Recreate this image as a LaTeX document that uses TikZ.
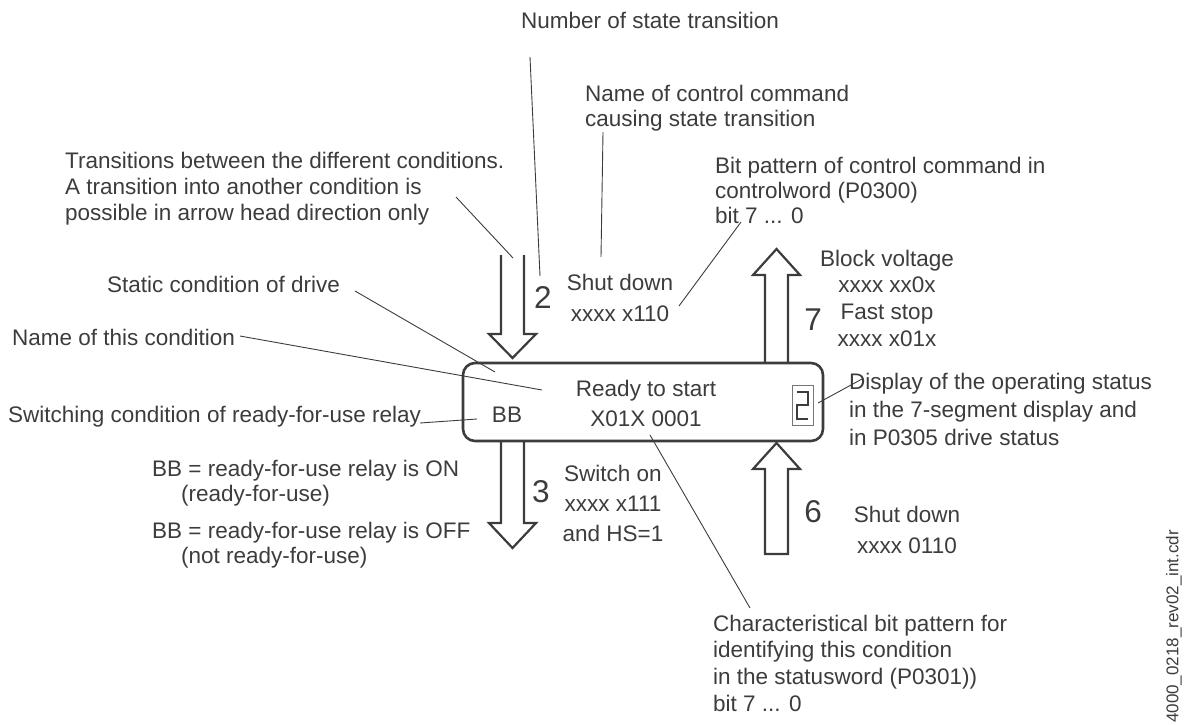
\documentclass[tikz,border=0pt]{standalone}
\usepackage{fontspec}
\setmainfont{Liberation Sans}
\definecolor{ink}{RGB}{60,60,60}
\begin{document}
\begin{tikzpicture}[x=1pt,y=-1pt,
 txt/.style={text=ink, inner sep=0pt, font=\fontsize{22.5}{26}\selectfont},
 lab/.style={txt, anchor=north west, align=left},
 clab/.style={txt, anchor=north, align=center},
 num/.style={text=ink, inner sep=0pt, font=\fontsize{31.5}{31.5}\selectfont},
 leader/.style={draw=ink, line width=0.9pt},
 fat/.style={draw=ink, line width=2.2pt, line join=miter},
 statebox/.style={draw=ink, line width=2.6pt, rounded corners=12pt},
 segbox/.style={draw=ink!70, line width=0.8pt},
 seg/.style={draw=ink, line width=2.8pt}
]
\useasboundingbox (0,0) rectangle (1196,724);

% state box
\node[statebox, minimum width=360pt, minimum height=78pt, inner sep=0pt] (state) at (643,402) {};
\node[clab, font=\fontsize{22.5}{29.5}\selectfont] (title) at (646,380) {Ready to start\\X01X 0001};
\node[txt] (bb) at (507,415) {BB};

% 7-segment display
\node[segbox, minimum width=21pt, minimum height=40pt, inner sep=0pt] (disp) at (802.5,405) {};
\draw[seg] (797,392) -- (808,392) -- (808,405) -- (797,405) -- (797,419) -- (808,419);

% fat arrows
\draw[fat] (501,255) -- (501,334) -- (489,334) -- (512.5,358) -- (536,334) -- (524,334) -- (524,255);
\draw[fat] (501,442) -- (501,523) -- (489,523) -- (512.5,548) -- (536,523) -- (524,523) -- (524,442);
\draw[fat] (765,362) -- (765,275) -- (753,275) -- (776.5,249) -- (800,275) -- (788,275) -- (788,362);
\draw[fat] (776.5,443) -- (800,469) -- (788,469) -- (788,554) -- (765,554) -- (765,469) -- (753,469) -- cycle;

% arrow numbers
\node[num] (n2) at (543,297) {2};
\node[num] (n3) at (541,492) {3};
\node[num] (n7) at (813,320) {7};
\node[num] (n6) at (813,512) {6};

% transition labels
\node[clab, font=\fontsize{22.5}{31}\selectfont] (t2) at (620,273.5) {Shut down\\xxxx x110};
\node[clab, font=\fontsize{22.5}{30.3}\selectfont] (t3) at (613,464.5) {Switch on\\xxxx x111\\and HS=1};
\node[clab, font=\fontsize{22.5}{26.7}\selectfont] (t7) at (887,249.5) {Block voltage\\xxxx xx0x\\Fast stop\\xxxx x01x};
\node[clab, font=\fontsize{22.5}{31}\selectfont] (t6) at (907,505.5) {Shut down\\xxxx 0110};

% annotations
\node[lab] (a1) at (521,11.5) {Number of state transition};
\node[lab, font=\fontsize{22.5}{25}\selectfont] (a2) at (585,84.5) {Name of control command\\causing state transition};
\node[lab, font=\fontsize{22.5}{25}\selectfont] (a3) at (715,156.5) {Bit pattern of control command in\\controlword (P0300)\\bit 7 ... 0};
\node[lab] (a4) at (65,151.5) {Transitions between the different conditions.\\A transition into another condition is\\possible in arrow head direction only};
\node[lab] (a5) at (107,275.5) {Static condition of drive};
\node[lab] (a6) at (12,328.5) {Name of this condition};
\node[lab] (a7) at (8,405.5) {Switching condition of ready-for-use relay};
\node[lab] (b1) at (152,459.5) {BB = ready-for-use relay is ON};
\node[lab] (b2) at (181,484.5) {(ready-for-use)};
\node[lab] (b3) at (152,521.5) {BB = ready-for-use relay is OFF};
\node[lab] (b4) at (181,546.5) {(not ready-for-use)};
\node[lab, font=\fontsize{22.5}{28}\selectfont] (a8) at (849,372.5) {Display of the operating status\\in the 7-segment display and\\in P0305 drive status};
\node[lab, font=\fontsize{22.5}{26.7}\selectfont] (a9) at (713,614.5) {Characteristical bit pattern for\\identifying this condition\\in the statusword (P0301))\\bit 7 ... 0};
\node[txt, rotate=90, anchor=west, font=\fontsize{17}{17}\selectfont] (file) at (1174,723) {4000\_0218\_rev02\_int.cdr};

% leader lines
\coordinate (l1a) at (530,57);  \coordinate (l1b) at (540,276);
\coordinate (l2a) at (603,132); \coordinate (l2b) at (601,257);
\coordinate (l3a) at (741,222); \coordinate (l3b) at (679,306);
\coordinate (l4a) at (456,197); \coordinate (l4b) at (513,258);
\coordinate (l5a) at (355,291); \coordinate (l5b) at (495,372);
\coordinate (l6a) at (240,336); \coordinate (l6b) at (542,390);
\coordinate (l7a) at (420,423); \coordinate (l7b) at (477,419);
\coordinate (l8a) at (862,379); \coordinate (l8b) at (818,403);
\coordinate (l9a) at (650,435); \coordinate (l9b) at (750,608);
\draw[leader] (l1a) -- (l1b);
\draw[leader] (l2a) -- (l2b);
\draw[leader] (l3a) -- (l3b);
\draw[leader] (l4a) -- (l4b);
\draw[leader] (l5a) -- (l5b);
\draw[leader] (l6a) -- (l6b);
\draw[leader] (l7a) -- (l7b);
\draw[leader] (l8a) -- (l8b);
\draw[leader] (l9a) -- (l9b);
\end{tikzpicture}
\end{document}
